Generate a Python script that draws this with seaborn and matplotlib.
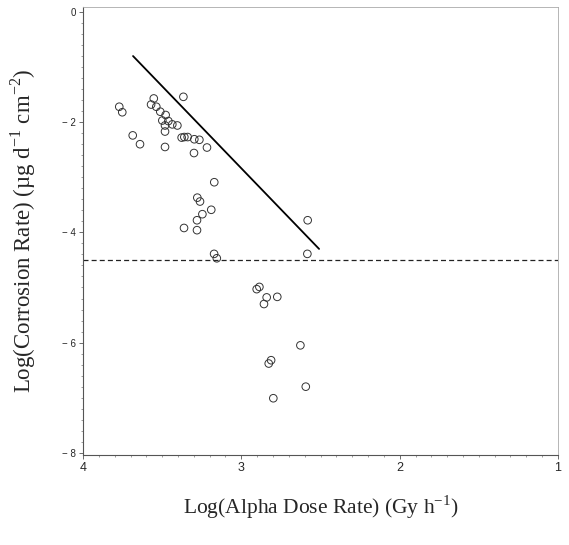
import matplotlib
matplotlib.use("Agg")
import matplotlib.pyplot as plt
import numpy as np
import pandas as pd
import seaborn as sns
from matplotlib.ticker import MultipleLocator

# 数据
dose_rate = [3.771, 3.752, 3.553, 3.570, 3.537, 3.512, 3.478, 3.499, 3.461, 3.436,
             3.482, 3.404, 3.482, 3.366, 3.686, 3.640, 3.482, 3.377, 3.360, 3.339,
             3.297, 3.265, 3.299, 3.217, 3.171, 3.278, 3.261, 3.246, 3.190, 3.280,
             3.362, 3.280, 3.172, 3.155, 2.581, 2.583, 2.886, 2.903, 2.840, 2.773,
             2.857, 2.627, 2.812, 2.827, 2.593, 2.798]
corrosion = [-1.72, -1.82, -1.57, -1.68, -1.72, -1.81, -1.87, -1.97, -1.98, -2.04,
             -2.06, -2.06, -2.17, -1.54, -2.24, -2.40, -2.45, -2.28, -2.27, -2.27,
             -2.31, -2.32, -2.56, -2.46, -3.09, -3.37, -3.44, -3.67, -3.59, -3.78,
             -3.92, -3.96, -4.39, -4.47, -3.78, -4.39, -4.99, -5.03, -5.18, -5.17,
             -5.30, -6.05, -6.32, -6.38, -6.80, -7.01]

# 直线 (bounding line) end points
line_x = [3.684, 2.509]
line_y = [-0.80, -4.30]

# 虚线 (detection limit)
limit_y = -4.5

x_ticks = [4, 3, 2, 1]
y_ticks = [-8, -6, -4, -2, 0]
y_tick_labels = ["\u2212 8", "\u2212 6", "\u2212 4", "\u2212 2", "0"]

sns.set_style("white")
plt.rcParams["font.family"] = ["Liberation Sans", "DejaVu Sans"]

fig = plt.figure(figsize=(5.69, 5.45), dpi=100)
ax = fig.add_axes([83 / 569, 1 - 455 / 545, (558 - 83) / 569, (455 - 7) / 545])

df = pd.DataFrame({"x": dose_rate, "y": corrosion})
sns.scatterplot(data=df, x="x", y="y", ax=ax, s=30, facecolor="none",
                edgecolor="#333333", linewidth=0.7, zorder=3)
sns.lineplot(x=line_x, y=line_y, ax=ax, color="black", linewidth=1.3)
ax.axhline(limit_y, color="#222222", linewidth=0.9, linestyle=(0, (4, 2.5)))

ax.set_xlim(4, 1)
ax.set_ylim(-8.04, 0.09)
ax.set_xticks(x_ticks)
ax.set_xticklabels([str(t) for t in x_ticks], fontsize=9)
ax.set_yticks(y_ticks)
ax.set_yticklabels(y_tick_labels, fontsize=7)
ax.xaxis.set_minor_locator(MultipleLocator(0.1))
ax.yaxis.set_minor_locator(MultipleLocator(0.2))
ax.tick_params(axis="both", which="major", direction="out", length=3, width=0.6,
               color="#555555", pad=2, bottom=True, left=True)
ax.tick_params(axis="both", which="minor", direction="out", length=1.5, width=0.5,
               color="#777777", bottom=True, left=True)

for side in ["left", "bottom"]:
    ax.spines[side].set_color("#555555")
    ax.spines[side].set_linewidth(0.8)
for side in ["top", "right"]:
    ax.spines[side].set_color("#aaaaaa")
    ax.spines[side].set_linewidth(0.6)

serif = ["Liberation Serif", "DejaVu Serif"]
ax.set_xlabel("Log(Alpha Dose Rate) (Gy h$^{\\mathregular{-1}}$)", family=serif,
              fontsize=15.5)
ax.xaxis.set_label_coords(0.5, -0.085)
ax.set_ylabel("Log(Corrosion Rate) (\u00b5g d$^{\\mathregular{-1}}$ cm$^{\\mathregular{-2}}$)",
              family=serif, fontsize=16.5)
ax.yaxis.set_label_coords(-0.095, 0.5)

fig.savefig("out.png", dpi=100)
